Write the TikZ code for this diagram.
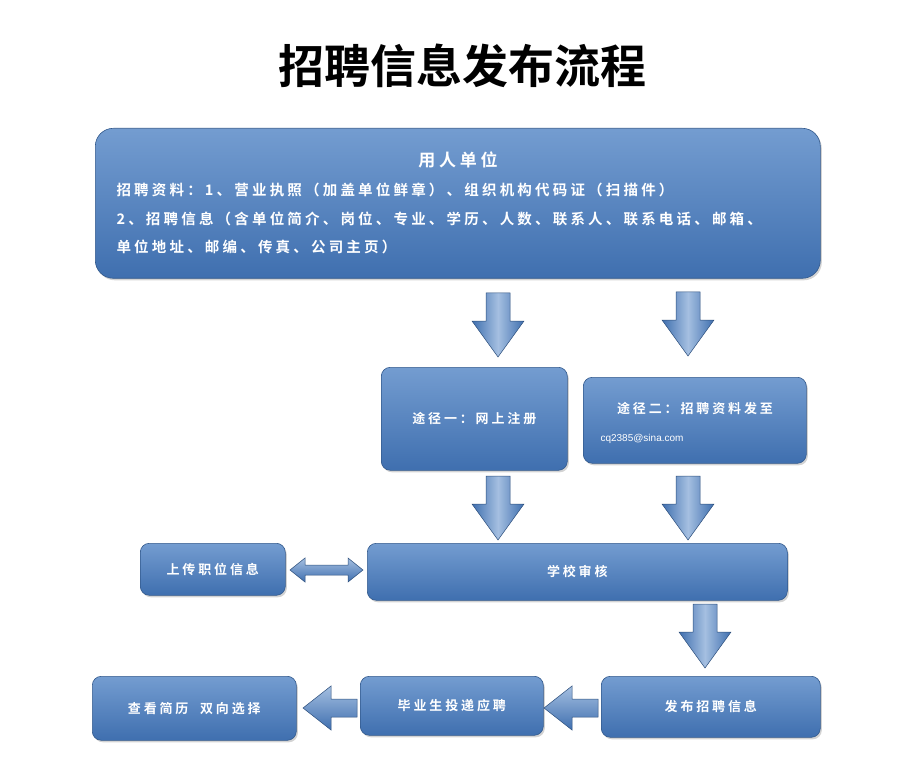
\documentclass[tikz,border=0pt]{standalone}
\usepackage{fontspec}
\setmainfont{Noto Sans CJK SC}
\newfontfamily\cjkb{Noto Sans CJK SC Bold}
\newfontfamily\cjks[LetterSpace=22]{Noto Sans CJK SC Bold}
\newfontfamily\latinf{Liberation Sans}
\usetikzlibrary{shadows}
\definecolor{bA}{HTML}{5B8BC8}
\definecolor{bB}{HTML}{3F6FAF}
\tikzset{
 box/.style={draw=bB!80!black,line width=0.6pt,rounded corners=9pt,top color=bA!85!white,bottom color=bB,
   drop shadow={shadow xshift=1.5pt,shadow yshift=-2pt,opacity=0.35},text=white,font=\cjks\fontsize{13}{16}\selectfont},
 arrfill/.style={draw=bB!70!black,line width=0.5pt,left color=bB,right color=bB,middle color=bA!55!white},
 darr/.pic={\path[arrfill] (-12,-32) -- (12,-32) -- (12,-4) -- (26,-4) -- (0,32) -- (-26,-4) -- (-12,-4) -- cycle;},
 larr/.pic={\path[arrfill,top color=bA!55!white,bottom color=bB] (27,-9) -- (27,9) -- (1,9) -- (1,22) -- (-27,0) -- (1,-22) -- (1,-9) -- cycle;},
}
\begin{document}
\begin{tikzpicture}[x=1pt,y=-1pt]
\useasboundingbox (0,0) rectangle (918,767);
\node (title) at (462,66) {\cjkb\fontsize{46}{48}\selectfont 招聘信息发布流程};
\node[box,minimum width=725pt,minimum height=150pt,anchor=north west,rounded corners=18pt] (top) at (95,128) {};
\node[text=white,font=\cjks\fontsize{17}{18}\selectfont] (t1) at (458,160) {用人单位};
\node[text=white,font=\cjks\fontsize{14.5}{16}\selectfont,anchor=west] (t2) at (113,190) {招聘资料：1、营业执照（加盖单位鲜章）、组织机构代码证（扫描件）};
\node[text=white,font=\cjks\fontsize{14.5}{16}\selectfont,anchor=west] (t3) at (113,219) {2、招聘信息（含单位简介、岗位、专业、学历、人数、联系人、联系电话、邮箱、};
\node[text=white,font=\cjks\fontsize{14.5}{16}\selectfont,anchor=west] (t4) at (113,247) {单位地址、邮编、传真、公司主页）};
\node[box,minimum width=186pt,minimum height=103pt,anchor=north west] (w1) at (381,367) {途径一：网上注册};
\node[box,minimum width=223pt,minimum height=86pt,anchor=north west] (w2) at (583,377) {};
\node[text=white,font=\cjks\fontsize{13}{16}\selectfont] (w2a) at (695,408) {途径二：招聘资料发至};
\node[text=white,font=\latinf\fontsize{10}{12}\selectfont,anchor=west] (w2b) at (597,439) {cq2385@sina.com};
\node[box,minimum width=145pt,minimum height=52pt,anchor=north west] (up) at (140,543) {上传职位信息};
\node[box,minimum width=420pt,minimum height=57pt,anchor=north west] (sh) at (367,543) {学校审核};
\node[box,minimum width=204pt,minimum height=64pt,anchor=north west] (ck) at (92,676) {查看简历\ \ 双向选择};
\node[box,minimum width=183pt,minimum height=59pt,anchor=north west] (by) at (360,676) {毕业生投递应聘};
\node[box,minimum width=219pt,minimum height=61pt,anchor=north west] (fb) at (601,676) {发布招聘信息};
% block arrows
\pic at (498,325) {darr};
\pic at (688,324) {darr};
\pic at (498,508) {darr};
\pic at (688,508) {darr};
\pic at (705,636) {darr};
\pic at (571,708) {larr};
\pic at (330,708) {larr};
\path[arrfill,top color=bA!55!white,bottom color=bB] (290,570) -- (305,558) -- (305,565) -- (348,565) -- (348,558) -- (363,570) -- (348,582) -- (348,575) -- (305,575) -- (305,582) -- cycle;
\end{tikzpicture}
\end{document}
